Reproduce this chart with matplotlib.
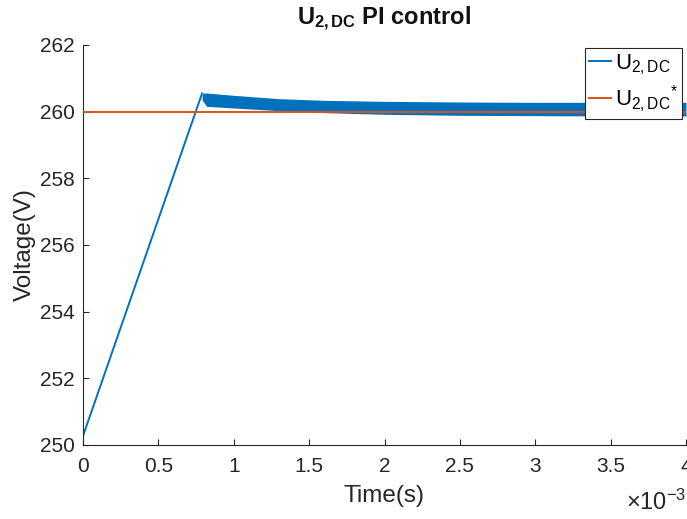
import matplotlib

matplotlib.use("Agg")
import matplotlib.pyplot as plt
from matplotlib.ticker import FuncFormatter

# ramp-up of the DC-link voltage (s, V)
ramp_t = [0.0, 0.00079]
ramp_v = [250.27, 260.55]

# envelope of the fast ripple after the ramp (s, V)
band_t = [0.00079, 0.00082, 0.0010, 0.0013, 0.0016, 0.0020, 0.0025, 0.0030, 0.0035, 0.0040]
band_hi = [260.55, 260.56, 260.49, 260.39, 260.34, 260.31, 260.29, 260.28, 260.28, 260.28]
band_lo = [260.35, 260.16, 260.11, 260.03, 259.97, 259.92, 259.89, 259.88, 259.87, 259.87]

# reference voltage
ref_t = [0.0, 0.004]
ref_v = [260.0, 260.0]

x_ticks = [0, 0.0005, 0.001, 0.0015, 0.002, 0.0025, 0.003, 0.0035, 0.004]
y_ticks = [250, 252, 254, 256, 258, 260, 262]

BLUE = "#0072BD"
ORANGE = "#D95319"
AXIS = "#262626"

plt.rcParams["font.family"] = ["Liberation Sans", "DejaVu Sans"]
plt.rcParams["mathtext.fontset"] = "custom"
plt.rcParams["mathtext.rm"] = "Liberation Sans"
plt.rcParams["mathtext.it"] = "Liberation Sans"
plt.rcParams["mathtext.bf"] = "Liberation Sans:bold"

fig = plt.figure(figsize=(6.87, 5.19), dpi=100)
ax = fig.add_axes([83 / 687, 74 / 519, 603 / 687, 400 / 519])

ax.plot(ramp_t, ramp_v, color=BLUE, lw=1.4, label=r"U$_{2,\mathrm{DC}}$", zorder=2)
ax.fill_between(band_t, band_lo, band_hi, color=BLUE, lw=0, zorder=2)
ax.plot(ref_t, ref_v, color=ORANGE, lw=1.4, label=r"U$_{2,\mathrm{DC}}$$^{*}$", zorder=3)

ax.set_xlim(0, 0.004)
ax.set_ylim(250, 262)
ax.set_xticks(x_ticks)
ax.set_yticks(y_ticks)
ax.xaxis.set_major_formatter(FuncFormatter(lambda v, p: f"{v * 1e3:g}"))

for side in ["top", "right"]:
    ax.spines[side].set_visible(False)
for side in ["left", "bottom"]:
    ax.spines[side].set_color(AXIS)
    ax.spines[side].set_linewidth(0.8)
ax.tick_params(direction="in", length=4, width=0.8, color=AXIS,
               labelsize=15, labelcolor=AXIS)
ax.tick_params(axis="x", pad=9)
ax.tick_params(axis="y", pad=6)

ax.set_xlabel("Time(s)", fontsize=17.5, color=AXIS, labelpad=6)
ax.set_ylabel("Voltage(V)", fontsize=17.5, color=AXIS, labelpad=3)
ax.set_title(r"$\mathbf{U_{2,DC}}$ PI control", fontsize=17, fontweight="bold",
             color="#111111", pad=15)

fig.text(0.999, 0.008, r"$\times$10$^{-3}$", ha="right", va="bottom",
         fontsize=17, color=AXIS)

leg = ax.legend(loc="upper right", bbox_to_anchor=(599 / 603, 0.993), fontsize=16,
                frameon=True, fancybox=False, edgecolor="#262626", framealpha=1,
                handlelength=1.0, handletextpad=0.15, borderpad=0.2,
                labelspacing=0.3, borderaxespad=0.0)
leg.get_frame().set_linewidth(0.8)

fig.savefig("out.png", dpi=100)
